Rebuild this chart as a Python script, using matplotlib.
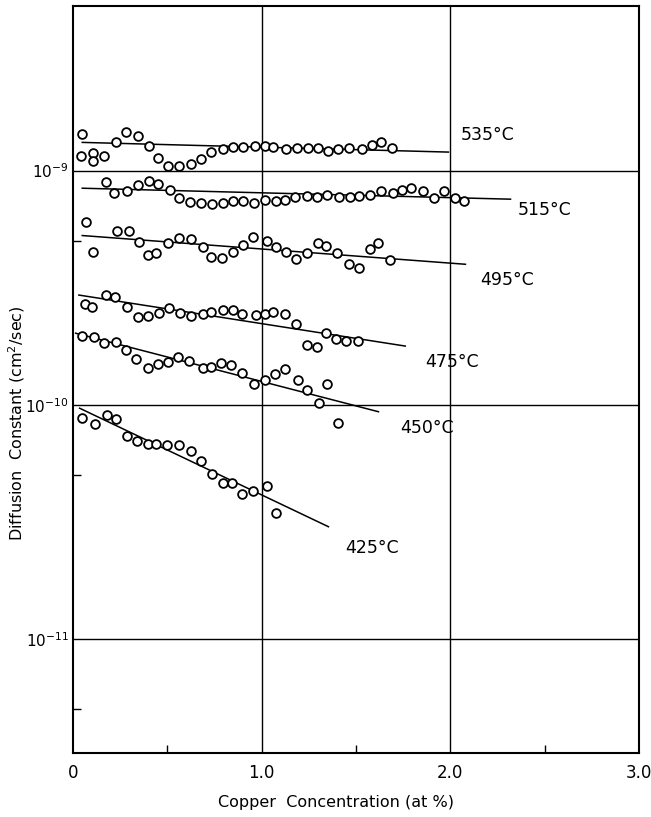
import matplotlib
matplotlib.use("Agg")
import matplotlib.pyplot as plt
import numpy as np

# copper concentration (at %) and diffusion constant (cm^2/sec)
x535 = [0.049, 0.044, 0.106, 0.106, 0.164, 0.226, 0.279, 0.345, 0.403, 0.448, 0.504,
        0.562, 0.625, 0.681, 0.734, 0.793, 0.849, 0.902, 0.964, 1.018, 1.062, 1.129,
        1.186, 1.244, 1.301, 1.351, 1.407, 1.465, 1.531, 1.586, 1.632, 1.690]
d535 = [1.44e-9, 1.156e-9, 1.194e-9, 1.104e-9, 1.159e-9, 1.327e-9, 1.459e-9, 1.407e-9,
        1.276e-9, 1.133e-9, 1.047e-9, 1.047e-9, 1.064e-9, 1.122e-9, 1.199e-9, 1.241e-9,
        1.262e-9, 1.267e-9, 1.279e-9, 1.279e-9, 1.262e-9, 1.241e-9, 1.247e-9, 1.250e-9,
        1.254e-9, 1.214e-9, 1.241e-9, 1.247e-9, 1.238e-9, 1.282e-9, 1.323e-9, 1.247e-9]

x515 = [0.177, 0.217, 0.288, 0.345, 0.401, 0.451, 0.513, 0.562, 0.619, 0.678, 0.738,
        0.793, 0.849, 0.902, 0.959, 1.018, 1.076, 1.124, 1.177, 1.239, 1.295, 1.345,
        1.412, 1.469, 1.518, 1.575, 1.632, 1.694, 1.744, 1.793, 1.855, 1.911, 1.964,
        2.023, 2.071]
d515 = [8.92e-10, 8.00e-10, 8.21e-10, 8.71e-10, 9.04e-10, 8.77e-10, 8.25e-10, 7.67e-10,
        7.37e-10, 7.30e-10, 7.23e-10, 7.28e-10, 7.44e-10, 7.40e-10, 7.30e-10, 7.50e-10,
        7.44e-10, 7.50e-10, 7.69e-10, 7.78e-10, 7.74e-10, 7.85e-10, 7.69e-10, 7.69e-10,
        7.82e-10, 7.89e-10, 8.19e-10, 8.05e-10, 8.30e-10, 8.44e-10, 8.19e-10, 7.67e-10,
        8.21e-10, 7.67e-10, 7.44e-10]

x495 = [0.067, 0.106, 0.235, 0.295, 0.348, 0.398, 0.442, 0.504, 0.562, 0.625, 0.687,
        0.734, 0.788, 0.849, 0.902, 0.955, 1.027, 1.076, 1.129, 1.182, 1.239, 1.301,
        1.341, 1.398, 1.465, 1.518, 1.575, 1.619, 1.681]
d495 = [6.02e-10, 4.48e-10, 5.54e-10, 5.54e-10, 4.96e-10, 4.36e-10, 4.43e-10, 4.90e-10,
        5.14e-10, 5.11e-10, 4.71e-10, 4.29e-10, 4.22e-10, 4.48e-10, 4.81e-10, 5.18e-10,
        5.02e-10, 4.71e-10, 4.48e-10, 4.21e-10, 4.43e-10, 4.92e-10, 4.77e-10, 4.43e-10,
        3.99e-10, 3.85e-10, 4.61e-10, 4.92e-10, 4.14e-10]

x475 = [0.062, 0.102, 0.177, 0.221, 0.288, 0.345, 0.398, 0.456, 0.508, 0.566, 0.628,
        0.687, 0.734, 0.793, 0.849, 0.897, 0.970, 1.018, 1.058, 1.124, 1.182, 1.239,
        1.295, 1.341, 1.395, 1.448, 1.513]
d475 = [2.69e-10, 2.62e-10, 2.94e-10, 2.88e-10, 2.61e-10, 2.38e-10, 2.39e-10, 2.47e-10,
        2.58e-10, 2.46e-10, 2.40e-10, 2.43e-10, 2.48e-10, 2.54e-10, 2.54e-10, 2.43e-10,
        2.42e-10, 2.43e-10, 2.50e-10, 2.44e-10, 2.21e-10, 1.80e-10, 1.77e-10, 2.03e-10,
        1.90e-10, 1.87e-10, 1.87e-10]

x450 = [0.049, 0.111, 0.164, 0.226, 0.279, 0.332, 0.398, 0.448, 0.501, 0.557, 0.616,
        0.690, 0.734, 0.784, 0.837, 0.897, 0.961, 1.018, 1.071, 1.124, 1.194, 1.242,
        1.306, 1.345, 1.402]
d450 = [1.97e-10, 1.95e-10, 1.83e-10, 1.85e-10, 1.71e-10, 1.56e-10, 1.43e-10, 1.49e-10,
        1.52e-10, 1.60e-10, 1.54e-10, 1.44e-10, 1.45e-10, 1.50e-10, 1.48e-10, 1.36e-10,
        1.23e-10, 1.27e-10, 1.35e-10, 1.42e-10, 1.27e-10, 1.16e-10, 1.02e-10, 1.23e-10,
        8.38e-11]

x425 = [0.049, 0.116, 0.182, 0.226, 0.288, 0.341, 0.398, 0.442, 0.498, 0.561, 0.628,
        0.676, 0.738, 0.796, 0.841, 0.895, 0.955, 1.027, 1.074]
d425 = [8.75e-11, 8.27e-11, 9.04e-11, 8.65e-11, 7.38e-11, 7.02e-11, 6.77e-11, 6.77e-11,
        6.70e-11, 6.70e-11, 6.36e-11, 5.74e-11, 5.04e-11, 4.61e-11, 4.61e-11, 4.15e-11,
        4.28e-11, 4.50e-11, 3.45e-11]

# fitted lines: (x start, x end), (D start, D end)
fits = {
    "535": ([0.049, 1.99], [1.32e-9, 1.20e-9]),
    "515": ([0.049, 2.319], [8.41e-10, 7.55e-10]),
    "495": ([0.049, 2.080], [5.28e-10, 3.98e-10]),
    "475": ([0.031, 1.761], [2.94e-10, 1.78e-10]),
    "450": ([0.014, 1.619], [2.02e-10, 9.33e-11]),
    "425": ([0.035, 1.354], [9.66e-11, 3.01e-11]),
}
temps = ["535", "515", "495", "475", "450", "425"]
xs = [x535, x515, x495, x475, x450, x425]
ds = [d535, d515, d495, d475, d450, d425]
# label anchor (x, D)
label_pos = [(2.053, 1.42e-9), (2.356, 6.79e-10), (2.16, 3.41e-10),
             (1.867, 1.52e-10), (1.734, 7.95e-11), (1.442, 2.44e-11)]

fig = plt.figure(figsize=(6.51, 8.17), dpi=100)
ax = fig.add_axes([73 / 651, 1 - 753 / 817, 566 / 651, 747 / 817])

for t, x, d, lp in zip(temps, xs, ds, label_pos):
    fx, fd = fits[t]
    ax.plot(fx, fd, color="black", lw=1.1, zorder=3)
    ax.plot(x, d, "o", mfc="white", mec="black", ms=6.3, mew=1.3, zorder=4)
    ax.text(lp[0], lp[1], t + "\u00b0C", fontsize=12.5, va="center", ha="left")

ax.set_yscale("log")
ax.set_xlim(0, 3.0)
ax.set_ylim(3.25e-12, 5.05e-9)

ax.set_xticks([0, 1.0, 2.0, 3.0])
ax.set_xticklabels(["0", "1.0", "2.0", "3.0"])
ax.set_xticks([0.5, 1.5, 2.5], minor=True)
ax.set_yticks([1e-11, 1e-10, 1e-9])
ax.set_yticklabels([r"$10^{-11}$", r"$10^{-10}$", r"$10^{-9}$"])
ax.set_yticks([5e-12, 5e-11, 5e-10], minor=True)
ax.yaxis.set_minor_formatter(matplotlib.ticker.NullFormatter())

ax.tick_params(which="both", direction="in", width=1)
ax.tick_params(axis="x", which="major", length=0, pad=8, labelsize=12)
ax.tick_params(axis="y", which="major", length=0, pad=3, labelsize=11)
ax.tick_params(which="minor", length=6)

for v in [1.0, 2.0]:
    ax.axvline(v, color="black", lw=1.0, zorder=1)
for v in [1e-11, 1e-10, 1e-9]:
    ax.axhline(v, color="black", lw=1.0, zorder=1)

for s in ax.spines.values():
    s.set_linewidth(1.5)

ax.set_xlabel("Copper  Concentration (at %)", fontsize=11.5)
ax.xaxis.set_label_coords(0.465, -0.056)
ax.set_ylabel("Diffusion  Constant (cm$^2$/sec)", fontsize=11.5)
ax.yaxis.set_label_coords(-0.082, 0.442)

fig.savefig("out.png", dpi=100)
